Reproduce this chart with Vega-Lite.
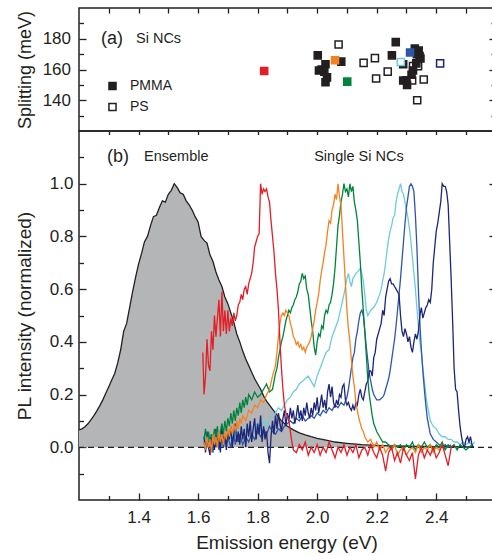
{
"$schema": "https://vega.github.io/schema/vega-lite/v6.json",
"padding": {"left": 14, "top": 6, "right": 0, "bottom": 0},
"spacing": 0,
"bounds": "flush",
"background": "white",
"config": {
 "view": {"stroke": "#231f20", "strokeWidth": 1.5},
 "font": "Liberation Sans",
 "axis": {"domain": false, "grid": false, "tickColor": "#231f20", "tickWidth": 1.3, "labelColor": "#231f20", "titleColor": "#231f20", "labelFont": "Liberation Sans", "titleFont": "Liberation Sans", "labelFontSize": 17, "titleFontSize": 19, "titleFontWeight": "normal", "labelFlush": false, "labelOverlap": false},
 "text": {"font": "Liberation Sans", "color": "#231f20"}
},
"resolve": {"scale": {"fill": "independent", "stroke": "independent"}},
"datasets": {
 "pts": [
  {"nc":"NC1","m":"PMMA","e":1.822,"s":159.0},
  {"nc":"NC2","m":"PMMA","e":2.060,"s":166.0},
  {"nc":"NC3","m":"PMMA","e":2.101,"s":152.1},
  {"nc":"NC4","m":"PS","e":2.281,"s":164.9},
  {"nc":"NC5","m":"PMMA","e":2.312,"s":171.1},
  {"nc":"NC6","m":"PS","e":2.413,"s":164.0},
  {"nc":"-","m":"PS","e":2.072,"s":176.3},
  {"nc":"-","m":"PS","e":2.156,"s":164.3},
  {"nc":"-","m":"PS","e":2.194,"s":167.4},
  {"nc":"-","m":"PS","e":2.237,"s":158.6},
  {"nc":"-","m":"PS","e":2.198,"s":154.2},
  {"nc":"-","m":"PS","e":2.322,"s":162.2},
  {"nc":"-","m":"PS","e":2.339,"s":162.2},
  {"nc":"-","m":"PS","e":2.319,"s":152.9},
  {"nc":"-","m":"PS","e":2.358,"s":153.5},
  {"nc":"-","m":"PS","e":2.336,"s":140.0},
  {"nc":"-","m":"PMMA","e":2.002,"s":169.2},
  {"nc":"-","m":"PMMA","e":2.028,"s":163.4},
  {"nc":"-","m":"PMMA","e":2.006,"s":159.3},
  {"nc":"-","m":"PMMA","e":2.024,"s":158.6},
  {"nc":"-","m":"PMMA","e":2.015,"s":160.0},
  {"nc":"-","m":"PMMA","e":2.033,"s":154.9},
  {"nc":"-","m":"PMMA","e":2.028,"s":151.7},
  {"nc":"-","m":"PMMA","e":2.081,"s":165.1},
  {"nc":"-","m":"PMMA","e":2.264,"s":177.8},
  {"nc":"-","m":"PMMA","e":2.251,"s":169.2},
  {"nc":"-","m":"PMMA","e":2.328,"s":173.6},
  {"nc":"-","m":"PMMA","e":2.341,"s":172.3},
  {"nc":"-","m":"PMMA","e":2.344,"s":168.8},
  {"nc":"-","m":"PMMA","e":2.347,"s":167.2},
  {"nc":"-","m":"PMMA","e":2.335,"s":170.0},
  {"nc":"-","m":"PMMA","e":2.333,"s":164.0},
  {"nc":"-","m":"PMMA","e":2.322,"s":159.4},
  {"nc":"-","m":"PMMA","e":2.317,"s":156.6},
  {"nc":"-","m":"PMMA","e":2.289,"s":152.8},
  {"nc":"-","m":"PMMA","e":2.302,"s":149.9},
  {"nc":"-","m":"PMMA","e":2.300,"s":153.0},
  {"nc":"-","m":"PMMA","e":2.289,"s":163.4}
 ],
 "labA": [
  {"k":"big","e":1.274,"s":180,"t":"(a)"},
  {"k":"small","e":1.3915,"s":180,"t":"Si NCs"}
 ],
 "labB": [
  {"k":"big","e":1.294,"pl":1.1,"t":"(b)"},
  {"k":"small","e":1.4185,"pl":1.1,"t":"Ensemble"},
  {"k":"small","e":1.99,"pl":1.1,"t":"Single Si NCs"}
 ],
 "zero": [{"pl":0}],
 "ens": [
  {"e":1.20,"pl":0.066},{"e":1.21,"pl":0.070},{"e":1.22,"pl":0.078},{"e":1.23,"pl":0.089},{"e":1.24,"pl":0.104},{"e":1.25,"pl":0.12},{"e":1.26,"pl":0.138},{"e":1.27,"pl":0.158},{"e":1.28,"pl":0.18},{"e":1.29,"pl":0.205},{"e":1.30,"pl":0.23},{"e":1.31,"pl":0.255},{"e":1.32,"pl":0.28},{"e":1.33,"pl":0.32},{"e":1.34,"pl":0.37},{"e":1.35,"pl":0.44},{"e":1.36,"pl":0.47},{"e":1.37,"pl":0.53},{"e":1.38,"pl":0.59},{"e":1.39,"pl":0.645},{"e":1.40,"pl":0.695},{"e":1.41,"pl":0.735},{"e":1.42,"pl":0.78},{"e":1.43,"pl":0.80},{"e":1.44,"pl":0.84},{"e":1.45,"pl":0.875},{"e":1.46,"pl":0.88},{"e":1.47,"pl":0.91},{"e":1.48,"pl":0.935},{"e":1.49,"pl":0.93},{"e":1.50,"pl":0.96},{"e":1.51,"pl":0.975},{"e":1.52,"pl":1.0},{"e":1.53,"pl":0.985},{"e":1.54,"pl":0.965},{"e":1.55,"pl":0.96},{"e":1.56,"pl":0.935},{"e":1.57,"pl":0.92},{"e":1.58,"pl":0.90},{"e":1.59,"pl":0.875},{"e":1.60,"pl":0.855},{"e":1.61,"pl":0.80},{"e":1.62,"pl":0.785},{"e":1.63,"pl":0.775},{"e":1.64,"pl":0.73},{"e":1.65,"pl":0.705},{"e":1.66,"pl":0.665},{"e":1.67,"pl":0.635},{"e":1.68,"pl":0.61},{"e":1.69,"pl":0.57},{"e":1.70,"pl":0.545},{"e":1.71,"pl":0.51},{"e":1.72,"pl":0.475},{"e":1.73,"pl":0.43},{"e":1.74,"pl":0.40},{"e":1.75,"pl":0.365},{"e":1.76,"pl":0.335},{"e":1.77,"pl":0.31},{"e":1.78,"pl":0.285},{"e":1.79,"pl":0.26},{"e":1.80,"pl":0.24},{"e":1.81,"pl":0.22},{"e":1.82,"pl":0.195},{"e":1.83,"pl":0.175},{"e":1.84,"pl":0.16},{"e":1.85,"pl":0.145},{"e":1.86,"pl":0.13},{"e":1.87,"pl":0.115},{"e":1.88,"pl":0.10},{"e":1.89,"pl":0.09},{"e":1.90,"pl":0.08},{"e":1.92,"pl":0.066},{"e":1.94,"pl":0.055},{"e":1.96,"pl":0.047},{"e":1.98,"pl":0.04},{"e":2.00,"pl":0.034},{"e":2.03,"pl":0.027},{"e":2.06,"pl":0.02},{"e":2.10,"pl":0.015},{"e":2.15,"pl":0.01},{"e":2.20,"pl":0.007},{"e":2.25,"pl":0.005},{"e":2.30,"pl":0.004},{"e":2.35,"pl":0.003},{"e":2.40,"pl":0.002},{"e":2.45,"pl":0.002},{"e":2.50,"pl":0.001},{"e":2.525,"pl":0.001}
 ],
 "spec": [
  {"nc":"NC4","e":1.62,"pl":0.01},{"nc":"NC4","e":1.625,"pl":0.04},{"nc":"NC4","e":1.63,"pl":0.0},{"nc":"NC4","e":1.635,"pl":0.03},{"nc":"NC4","e":1.64,"pl":0.05},{"nc":"NC4","e":1.645,"pl":0.02},{"nc":"NC4","e":1.65,"pl":0.04},{"nc":"NC4","e":1.655,"pl":0.01},{"nc":"NC4","e":1.66,"pl":0.05},{"nc":"NC4","e":1.665,"pl":0.02},{"nc":"NC4","e":1.67,"pl":0.03},{"nc":"NC4","e":1.675,"pl":0.06},{"nc":"NC4","e":1.68,"pl":0.02},{"nc":"NC4","e":1.685,"pl":0.05},{"nc":"NC4","e":1.69,"pl":0.03},{"nc":"NC4","e":1.695,"pl":0.06},{"nc":"NC4","e":1.70,"pl":0.04},{"nc":"NC4","e":1.705,"pl":0.02},{"nc":"NC4","e":1.71,"pl":0.05},{"nc":"NC4","e":1.715,"pl":0.03},{"nc":"NC4","e":1.72,"pl":0.06},{"nc":"NC4","e":1.725,"pl":0.04},{"nc":"NC4","e":1.73,"pl":0.07},{"nc":"NC4","e":1.735,"pl":0.05},{"nc":"NC4","e":1.74,"pl":0.03},{"nc":"NC4","e":1.745,"pl":0.06},{"nc":"NC4","e":1.75,"pl":0.04},{"nc":"NC4","e":1.76,"pl":0.07},{"nc":"NC4","e":1.77,"pl":0.05},{"nc":"NC4","e":1.78,"pl":0.08},{"nc":"NC4","e":1.79,"pl":0.06},{"nc":"NC4","e":1.80,"pl":0.09},{"nc":"NC4","e":1.81,"pl":0.07},{"nc":"NC4","e":1.82,"pl":0.10},{"nc":"NC4","e":1.83,"pl":0.08},{"nc":"NC4","e":1.84,"pl":0.11},{"nc":"NC4","e":1.85,"pl":0.12},{"nc":"NC4","e":1.86,"pl":0.13},{"nc":"NC4","e":1.87,"pl":0.15},{"nc":"NC4","e":1.88,"pl":0.14},{"nc":"NC4","e":1.89,"pl":0.16},{"nc":"NC4","e":1.90,"pl":0.18},{"nc":"NC4","e":1.91,"pl":0.19},{"nc":"NC4","e":1.92,"pl":0.21},{"nc":"NC4","e":1.93,"pl":0.22},{"nc":"NC4","e":1.94,"pl":0.24},{"nc":"NC4","e":1.95,"pl":0.25},{"nc":"NC4","e":1.96,"pl":0.26},{"nc":"NC4","e":1.97,"pl":0.27},{"nc":"NC4","e":1.98,"pl":0.25},{"nc":"NC4","e":1.99,"pl":0.23},{"nc":"NC4","e":2.00,"pl":0.27},{"nc":"NC4","e":2.01,"pl":0.30},{"nc":"NC4","e":2.02,"pl":0.33},{"nc":"NC4","e":2.03,"pl":0.36},{"nc":"NC4","e":2.04,"pl":0.37},{"nc":"NC4","e":2.05,"pl":0.42},{"nc":"NC4","e":2.06,"pl":0.45},{"nc":"NC4","e":2.07,"pl":0.48},{"nc":"NC4","e":2.08,"pl":0.53},{"nc":"NC4","e":2.09,"pl":0.58},{"nc":"NC4","e":2.10,"pl":0.64},{"nc":"NC4","e":2.105,"pl":0.66},{"nc":"NC4","e":2.11,"pl":0.63},{"nc":"NC4","e":2.115,"pl":0.61},{"nc":"NC4","e":2.12,"pl":0.64},{"nc":"NC4","e":2.125,"pl":0.65},{"nc":"NC4","e":2.13,"pl":0.66},{"nc":"NC4","e":2.14,"pl":0.67},{"nc":"NC4","e":2.145,"pl":0.68},{"nc":"NC4","e":2.15,"pl":0.66},{"nc":"NC4","e":2.155,"pl":0.63},{"nc":"NC4","e":2.16,"pl":0.58},{"nc":"NC4","e":2.165,"pl":0.52},{"nc":"NC4","e":2.17,"pl":0.50},{"nc":"NC4","e":2.175,"pl":0.51},{"nc":"NC4","e":2.18,"pl":0.52},{"nc":"NC4","e":2.19,"pl":0.53},{"nc":"NC4","e":2.20,"pl":0.55},{"nc":"NC4","e":2.21,"pl":0.58},{"nc":"NC4","e":2.215,"pl":0.60},{"nc":"NC4","e":2.22,"pl":0.63},{"nc":"NC4","e":2.225,"pl":0.66},{"nc":"NC4","e":2.23,"pl":0.70},{"nc":"NC4","e":2.235,"pl":0.75},{"nc":"NC4","e":2.24,"pl":0.79},{"nc":"NC4","e":2.245,"pl":0.82},{"nc":"NC4","e":2.25,"pl":0.84},{"nc":"NC4","e":2.255,"pl":0.87},{"nc":"NC4","e":2.26,"pl":0.88},{"nc":"NC4","e":2.265,"pl":0.93},{"nc":"NC4","e":2.27,"pl":0.96},{"nc":"NC4","e":2.275,"pl":0.98},{"nc":"NC4","e":2.28,"pl":1.00},{"nc":"NC4","e":2.285,"pl":0.97},{"nc":"NC4","e":2.29,"pl":0.96},{"nc":"NC4","e":2.295,"pl":0.93},{"nc":"NC4","e":2.30,"pl":0.90},{"nc":"NC4","e":2.305,"pl":0.87},{"nc":"NC4","e":2.31,"pl":0.83},{"nc":"NC4","e":2.315,"pl":0.78},{"nc":"NC4","e":2.32,"pl":0.72},{"nc":"NC4","e":2.325,"pl":0.66},{"nc":"NC4","e":2.33,"pl":0.60},{"nc":"NC4","e":2.335,"pl":0.53},{"nc":"NC4","e":2.34,"pl":0.46},{"nc":"NC4","e":2.345,"pl":0.40},{"nc":"NC4","e":2.35,"pl":0.36},{"nc":"NC4","e":2.355,"pl":0.30},{"nc":"NC4","e":2.36,"pl":0.25},{"nc":"NC4","e":2.365,"pl":0.20},{"nc":"NC4","e":2.37,"pl":0.16},{"nc":"NC4","e":2.375,"pl":0.13},{"nc":"NC4","e":2.38,"pl":0.10},{"nc":"NC4","e":2.39,"pl":0.08},{"nc":"NC4","e":2.40,"pl":0.07},{"nc":"NC4","e":2.41,"pl":0.05},{"nc":"NC4","e":2.42,"pl":0.04},{"nc":"NC4","e":2.43,"pl":0.04},{"nc":"NC4","e":2.44,"pl":0.03},{"nc":"NC4","e":2.45,"pl":0.03},{"nc":"NC4","e":2.46,"pl":0.02},{"nc":"NC4","e":2.47,"pl":0.02},{"nc":"NC4","e":2.48,"pl":0.01},{"nc":"NC4","e":2.49,"pl":0.02},{"nc":"NC4","e":2.50,"pl":0.01},{"nc":"NC4","e":2.51,"pl":0.02},{"nc":"NC4","e":2.52,"pl":0.01},{"nc":"NC4","e":2.53,"pl":0.02},

  {"nc":"NC5","e":1.62,"pl":0.02},{"nc":"NC5","e":1.625,"pl":-0.01},{"nc":"NC5","e":1.63,"pl":0.03},{"nc":"NC5","e":1.635,"pl":0.0},{"nc":"NC5","e":1.64,"pl":0.04},{"nc":"NC5","e":1.645,"pl":0.01},{"nc":"NC5","e":1.65,"pl":-0.02},{"nc":"NC5","e":1.655,"pl":0.02},{"nc":"NC5","e":1.66,"pl":0.0},{"nc":"NC5","e":1.665,"pl":0.03},{"nc":"NC5","e":1.67,"pl":-0.01},{"nc":"NC5","e":1.675,"pl":0.02},{"nc":"NC5","e":1.68,"pl":0.04},{"nc":"NC5","e":1.685,"pl":0.0},{"nc":"NC5","e":1.69,"pl":0.03},{"nc":"NC5","e":1.695,"pl":0.01},{"nc":"NC5","e":1.70,"pl":0.04},{"nc":"NC5","e":1.705,"pl":0.02},{"nc":"NC5","e":1.71,"pl":0.0},{"nc":"NC5","e":1.715,"pl":0.03},{"nc":"NC5","e":1.72,"pl":0.05},{"nc":"NC5","e":1.725,"pl":0.01},{"nc":"NC5","e":1.73,"pl":0.04},{"nc":"NC5","e":1.735,"pl":0.02},{"nc":"NC5","e":1.74,"pl":0.05},{"nc":"NC5","e":1.745,"pl":0.03},{"nc":"NC5","e":1.75,"pl":0.01},{"nc":"NC5","e":1.76,"pl":0.04},{"nc":"NC5","e":1.77,"pl":0.02},{"nc":"NC5","e":1.78,"pl":0.05},{"nc":"NC5","e":1.79,"pl":0.03},{"nc":"NC5","e":1.80,"pl":0.06},{"nc":"NC5","e":1.81,"pl":0.04},{"nc":"NC5","e":1.82,"pl":0.07},{"nc":"NC5","e":1.83,"pl":0.05},{"nc":"NC5","e":1.84,"pl":0.08},{"nc":"NC5","e":1.85,"pl":0.06},{"nc":"NC5","e":1.86,"pl":0.05},{"nc":"NC5","e":1.87,"pl":0.07},{"nc":"NC5","e":1.88,"pl":0.06},{"nc":"NC5","e":1.89,"pl":0.08},{"nc":"NC5","e":1.90,"pl":0.09},{"nc":"NC5","e":1.91,"pl":0.10},{"nc":"NC5","e":1.92,"pl":0.09},{"nc":"NC5","e":1.93,"pl":0.11},{"nc":"NC5","e":1.94,"pl":0.10},{"nc":"NC5","e":1.95,"pl":0.12},{"nc":"NC5","e":1.96,"pl":0.10},{"nc":"NC5","e":1.97,"pl":0.11},{"nc":"NC5","e":1.98,"pl":0.12},{"nc":"NC5","e":1.99,"pl":0.11},{"nc":"NC5","e":2.00,"pl":0.13},{"nc":"NC5","e":2.01,"pl":0.12},{"nc":"NC5","e":2.02,"pl":0.14},{"nc":"NC5","e":2.03,"pl":0.13},{"nc":"NC5","e":2.04,"pl":0.15},{"nc":"NC5","e":2.05,"pl":0.14},{"nc":"NC5","e":2.06,"pl":0.16},{"nc":"NC5","e":2.07,"pl":0.15},{"nc":"NC5","e":2.08,"pl":0.17},{"nc":"NC5","e":2.09,"pl":0.16},{"nc":"NC5","e":2.10,"pl":0.19},{"nc":"NC5","e":2.105,"pl":0.22},{"nc":"NC5","e":2.11,"pl":0.26},{"nc":"NC5","e":2.115,"pl":0.30},{"nc":"NC5","e":2.12,"pl":0.34},{"nc":"NC5","e":2.125,"pl":0.36},{"nc":"NC5","e":2.13,"pl":0.41},{"nc":"NC5","e":2.135,"pl":0.44},{"nc":"NC5","e":2.14,"pl":0.48},{"nc":"NC5","e":2.145,"pl":0.51},{"nc":"NC5","e":2.15,"pl":0.52},{"nc":"NC5","e":2.155,"pl":0.50},{"nc":"NC5","e":2.16,"pl":0.44},{"nc":"NC5","e":2.165,"pl":0.38},{"nc":"NC5","e":2.17,"pl":0.33},{"nc":"NC5","e":2.175,"pl":0.28},{"nc":"NC5","e":2.18,"pl":0.25},{"nc":"NC5","e":2.185,"pl":0.22},{"nc":"NC5","e":2.19,"pl":0.20},{"nc":"NC5","e":2.195,"pl":0.19},{"nc":"NC5","e":2.20,"pl":0.18},{"nc":"NC5","e":2.21,"pl":0.18},{"nc":"NC5","e":2.22,"pl":0.19},{"nc":"NC5","e":2.225,"pl":0.20},{"nc":"NC5","e":2.23,"pl":0.22},{"nc":"NC5","e":2.24,"pl":0.26},{"nc":"NC5","e":2.245,"pl":0.29},{"nc":"NC5","e":2.25,"pl":0.33},{"nc":"NC5","e":2.255,"pl":0.37},{"nc":"NC5","e":2.26,"pl":0.41},{"nc":"NC5","e":2.265,"pl":0.46},{"nc":"NC5","e":2.27,"pl":0.52},{"nc":"NC5","e":2.275,"pl":0.58},{"nc":"NC5","e":2.28,"pl":0.64},{"nc":"NC5","e":2.285,"pl":0.71},{"nc":"NC5","e":2.29,"pl":0.78},{"nc":"NC5","e":2.295,"pl":0.85},{"nc":"NC5","e":2.30,"pl":0.91},{"nc":"NC5","e":2.305,"pl":0.95},{"nc":"NC5","e":2.31,"pl":0.99},{"nc":"NC5","e":2.315,"pl":1.00},{"nc":"NC5","e":2.32,"pl":0.99},{"nc":"NC5","e":2.325,"pl":0.97},{"nc":"NC5","e":2.33,"pl":0.88},{"nc":"NC5","e":2.335,"pl":0.76},{"nc":"NC5","e":2.34,"pl":0.60},{"nc":"NC5","e":2.345,"pl":0.47},{"nc":"NC5","e":2.35,"pl":0.37},{"nc":"NC5","e":2.355,"pl":0.29},{"nc":"NC5","e":2.36,"pl":0.22},{"nc":"NC5","e":2.365,"pl":0.16},{"nc":"NC5","e":2.37,"pl":0.11},{"nc":"NC5","e":2.375,"pl":0.08},{"nc":"NC5","e":2.38,"pl":0.05},{"nc":"NC5","e":2.39,"pl":0.03},{"nc":"NC5","e":2.40,"pl":0.02},{"nc":"NC5","e":2.41,"pl":0.01},{"nc":"NC5","e":2.42,"pl":0.0},{"nc":"NC5","e":2.43,"pl":0.01},{"nc":"NC5","e":2.44,"pl":0.0},{"nc":"NC5","e":2.45,"pl":0.01},

  {"nc":"NC6","e":1.62,"pl":0.04},{"nc":"NC6","e":1.625,"pl":-0.02},{"nc":"NC6","e":1.63,"pl":0.06},{"nc":"NC6","e":1.635,"pl":0.0},{"nc":"NC6","e":1.64,"pl":-0.03},{"nc":"NC6","e":1.645,"pl":0.05},{"nc":"NC6","e":1.65,"pl":0.02},{"nc":"NC6","e":1.655,"pl":-0.01},{"nc":"NC6","e":1.66,"pl":0.07},{"nc":"NC6","e":1.665,"pl":0.01},{"nc":"NC6","e":1.67,"pl":0.04},{"nc":"NC6","e":1.675,"pl":-0.02},{"nc":"NC6","e":1.68,"pl":0.08},{"nc":"NC6","e":1.685,"pl":0.02},{"nc":"NC6","e":1.69,"pl":0.05},{"nc":"NC6","e":1.695,"pl":-0.01},{"nc":"NC6","e":1.70,"pl":0.06},{"nc":"NC6","e":1.705,"pl":0.03},{"nc":"NC6","e":1.71,"pl":0.08},{"nc":"NC6","e":1.715,"pl":0.0},{"nc":"NC6","e":1.72,"pl":0.05},{"nc":"NC6","e":1.725,"pl":0.09},{"nc":"NC6","e":1.73,"pl":0.02},{"nc":"NC6","e":1.735,"pl":0.06},{"nc":"NC6","e":1.74,"pl":0.01},{"nc":"NC6","e":1.745,"pl":0.08},{"nc":"NC6","e":1.75,"pl":0.03},{"nc":"NC6","e":1.755,"pl":0.07},{"nc":"NC6","e":1.76,"pl":0.0},{"nc":"NC6","e":1.765,"pl":0.09},{"nc":"NC6","e":1.77,"pl":0.04},{"nc":"NC6","e":1.775,"pl":0.10},{"nc":"NC6","e":1.78,"pl":0.02},{"nc":"NC6","e":1.785,"pl":0.07},{"nc":"NC6","e":1.79,"pl":0.11},{"nc":"NC6","e":1.795,"pl":0.03},{"nc":"NC6","e":1.80,"pl":0.09},{"nc":"NC6","e":1.805,"pl":0.05},{"nc":"NC6","e":1.81,"pl":0.12},{"nc":"NC6","e":1.815,"pl":0.02},{"nc":"NC6","e":1.82,"pl":0.08},{"nc":"NC6","e":1.825,"pl":0.03},{"nc":"NC6","e":1.83,"pl":0.06},{"nc":"NC6","e":1.835,"pl":-0.02},{"nc":"NC6","e":1.84,"pl":-0.06},{"nc":"NC6","e":1.845,"pl":0.04},{"nc":"NC6","e":1.85,"pl":0.10},{"nc":"NC6","e":1.855,"pl":0.05},{"nc":"NC6","e":1.86,"pl":0.12},{"nc":"NC6","e":1.865,"pl":0.07},{"nc":"NC6","e":1.87,"pl":0.13},{"nc":"NC6","e":1.875,"pl":0.09},{"nc":"NC6","e":1.88,"pl":0.06},{"nc":"NC6","e":1.885,"pl":0.11},{"nc":"NC6","e":1.89,"pl":0.14},{"nc":"NC6","e":1.895,"pl":0.08},{"nc":"NC6","e":1.90,"pl":0.13},{"nc":"NC6","e":1.905,"pl":0.10},{"nc":"NC6","e":1.91,"pl":0.15},{"nc":"NC6","e":1.915,"pl":0.11},{"nc":"NC6","e":1.92,"pl":0.14},{"nc":"NC6","e":1.925,"pl":0.09},{"nc":"NC6","e":1.93,"pl":0.12},{"nc":"NC6","e":1.935,"pl":0.16},{"nc":"NC6","e":1.94,"pl":0.11},{"nc":"NC6","e":1.945,"pl":0.14},{"nc":"NC6","e":1.95,"pl":0.10},{"nc":"NC6","e":1.955,"pl":0.15},{"nc":"NC6","e":1.96,"pl":0.12},{"nc":"NC6","e":1.965,"pl":0.17},{"nc":"NC6","e":1.97,"pl":0.13},{"nc":"NC6","e":1.975,"pl":0.11},{"nc":"NC6","e":1.98,"pl":0.15},{"nc":"NC6","e":1.985,"pl":0.12},{"nc":"NC6","e":1.99,"pl":0.17},{"nc":"NC6","e":1.995,"pl":0.14},{"nc":"NC6","e":2.00,"pl":0.19},{"nc":"NC6","e":2.005,"pl":0.13},{"nc":"NC6","e":2.01,"pl":0.16},{"nc":"NC6","e":2.015,"pl":0.20},{"nc":"NC6","e":2.02,"pl":0.15},{"nc":"NC6","e":2.025,"pl":0.18},{"nc":"NC6","e":2.03,"pl":0.14},{"nc":"NC6","e":2.035,"pl":0.21},{"nc":"NC6","e":2.04,"pl":0.24},{"nc":"NC6","e":2.045,"pl":0.19},{"nc":"NC6","e":2.05,"pl":0.23},{"nc":"NC6","e":2.055,"pl":0.17},{"nc":"NC6","e":2.06,"pl":0.15},{"nc":"NC6","e":2.065,"pl":0.18},{"nc":"NC6","e":2.07,"pl":0.16},{"nc":"NC6","e":2.075,"pl":0.20},{"nc":"NC6","e":2.08,"pl":0.19},{"nc":"NC6","e":2.085,"pl":0.23},{"nc":"NC6","e":2.09,"pl":0.24},{"nc":"NC6","e":2.095,"pl":0.18},{"nc":"NC6","e":2.10,"pl":0.16},{"nc":"NC6","e":2.105,"pl":0.17},{"nc":"NC6","e":2.11,"pl":0.15},{"nc":"NC6","e":2.115,"pl":0.14},{"nc":"NC6","e":2.12,"pl":0.16},{"nc":"NC6","e":2.125,"pl":0.14},{"nc":"NC6","e":2.13,"pl":0.17},{"nc":"NC6","e":2.135,"pl":0.16},{"nc":"NC6","e":2.14,"pl":0.20},{"nc":"NC6","e":2.145,"pl":0.22},{"nc":"NC6","e":2.15,"pl":0.19},{"nc":"NC6","e":2.155,"pl":0.18},{"nc":"NC6","e":2.16,"pl":0.21},{"nc":"NC6","e":2.165,"pl":0.24},{"nc":"NC6","e":2.17,"pl":0.25},{"nc":"NC6","e":2.175,"pl":0.29},{"nc":"NC6","e":2.18,"pl":0.29},{"nc":"NC6","e":2.185,"pl":0.27},{"nc":"NC6","e":2.19,"pl":0.34},{"nc":"NC6","e":2.195,"pl":0.36},{"nc":"NC6","e":2.20,"pl":0.41},{"nc":"NC6","e":2.205,"pl":0.43},{"nc":"NC6","e":2.21,"pl":0.45},{"nc":"NC6","e":2.215,"pl":0.47},{"nc":"NC6","e":2.22,"pl":0.52},{"nc":"NC6","e":2.225,"pl":0.50},{"nc":"NC6","e":2.23,"pl":0.57},{"nc":"NC6","e":2.235,"pl":0.60},{"nc":"NC6","e":2.24,"pl":0.63},{"nc":"NC6","e":2.245,"pl":0.64},{"nc":"NC6","e":2.25,"pl":0.62},{"nc":"NC6","e":2.255,"pl":0.62},{"nc":"NC6","e":2.26,"pl":0.61},{"nc":"NC6","e":2.265,"pl":0.60},{"nc":"NC6","e":2.27,"pl":0.59},{"nc":"NC6","e":2.275,"pl":0.58},{"nc":"NC6","e":2.28,"pl":0.50},{"nc":"NC6","e":2.285,"pl":0.44},{"nc":"NC6","e":2.29,"pl":0.42},{"nc":"NC6","e":2.295,"pl":0.45},{"nc":"NC6","e":2.30,"pl":0.43},{"nc":"NC6","e":2.305,"pl":0.40},{"nc":"NC6","e":2.31,"pl":0.42},{"nc":"NC6","e":2.315,"pl":0.38},{"nc":"NC6","e":2.32,"pl":0.36},{"nc":"NC6","e":2.325,"pl":0.40},{"nc":"NC6","e":2.33,"pl":0.43},{"nc":"NC6","e":2.335,"pl":0.41},{"nc":"NC6","e":2.34,"pl":0.44},{"nc":"NC6","e":2.345,"pl":0.50},{"nc":"NC6","e":2.35,"pl":0.53},{"nc":"NC6","e":2.355,"pl":0.49},{"nc":"NC6","e":2.36,"pl":0.51},{"nc":"NC6","e":2.365,"pl":0.53},{"nc":"NC6","e":2.37,"pl":0.54},{"nc":"NC6","e":2.375,"pl":0.56},{"nc":"NC6","e":2.38,"pl":0.55},{"nc":"NC6","e":2.385,"pl":0.60},{"nc":"NC6","e":2.39,"pl":0.70},{"nc":"NC6","e":2.395,"pl":0.76},{"nc":"NC6","e":2.40,"pl":0.82},{"nc":"NC6","e":2.405,"pl":0.85},{"nc":"NC6","e":2.41,"pl":0.89},{"nc":"NC6","e":2.415,"pl":0.93},{"nc":"NC6","e":2.42,"pl":1.00},{"nc":"NC6","e":2.425,"pl":0.99},{"nc":"NC6","e":2.43,"pl":0.99},{"nc":"NC6","e":2.435,"pl":0.97},{"nc":"NC6","e":2.44,"pl":0.92},{"nc":"NC6","e":2.445,"pl":0.78},{"nc":"NC6","e":2.45,"pl":0.64},{"nc":"NC6","e":2.455,"pl":0.48},{"nc":"NC6","e":2.46,"pl":0.30},{"nc":"NC6","e":2.465,"pl":0.22},{"nc":"NC6","e":2.47,"pl":0.21},{"nc":"NC6","e":2.475,"pl":0.14},{"nc":"NC6","e":2.48,"pl":0.08},{"nc":"NC6","e":2.485,"pl":0.04},{"nc":"NC6","e":2.49,"pl":0.01},{"nc":"NC6","e":2.495,"pl":0.0},{"nc":"NC6","e":2.50,"pl":0.03},{"nc":"NC6","e":2.505,"pl":0.04},{"nc":"NC6","e":2.51,"pl":0.02},{"nc":"NC6","e":2.515,"pl":0.04},{"nc":"NC6","e":2.52,"pl":0.01},{"nc":"NC6","e":2.525,"pl":0.0},

  {"nc":"NC3","e":1.62,"pl":0.03},{"nc":"NC3","e":1.625,"pl":0.07},{"nc":"NC3","e":1.63,"pl":0.02},{"nc":"NC3","e":1.635,"pl":0.06},{"nc":"NC3","e":1.64,"pl":0.01},{"nc":"NC3","e":1.645,"pl":0.05},{"nc":"NC3","e":1.65,"pl":0.03},{"nc":"NC3","e":1.655,"pl":0.07},{"nc":"NC3","e":1.66,"pl":0.04},{"nc":"NC3","e":1.665,"pl":0.08},{"nc":"NC3","e":1.67,"pl":0.02},{"nc":"NC3","e":1.675,"pl":0.06},{"nc":"NC3","e":1.68,"pl":0.09},{"nc":"NC3","e":1.685,"pl":0.05},{"nc":"NC3","e":1.69,"pl":0.10},{"nc":"NC3","e":1.695,"pl":0.06},{"nc":"NC3","e":1.70,"pl":0.11},{"nc":"NC3","e":1.705,"pl":0.08},{"nc":"NC3","e":1.71,"pl":0.13},{"nc":"NC3","e":1.715,"pl":0.09},{"nc":"NC3","e":1.72,"pl":0.14},{"nc":"NC3","e":1.725,"pl":0.10},{"nc":"NC3","e":1.73,"pl":0.15},{"nc":"NC3","e":1.735,"pl":0.12},{"nc":"NC3","e":1.74,"pl":0.17},{"nc":"NC3","e":1.745,"pl":0.13},{"nc":"NC3","e":1.75,"pl":0.18},{"nc":"NC3","e":1.755,"pl":0.15},{"nc":"NC3","e":1.76,"pl":0.19},{"nc":"NC3","e":1.765,"pl":0.16},{"nc":"NC3","e":1.77,"pl":0.20},{"nc":"NC3","e":1.78,"pl":0.18},{"nc":"NC3","e":1.79,"pl":0.21},{"nc":"NC3","e":1.80,"pl":0.19},{"nc":"NC3","e":1.81,"pl":0.20},{"nc":"NC3","e":1.82,"pl":0.22},{"nc":"NC3","e":1.83,"pl":0.24},{"nc":"NC3","e":1.84,"pl":0.21},{"nc":"NC3","e":1.85,"pl":0.22},{"nc":"NC3","e":1.855,"pl":0.25},{"nc":"NC3","e":1.86,"pl":0.28},{"nc":"NC3","e":1.865,"pl":0.30},{"nc":"NC3","e":1.87,"pl":0.34},{"nc":"NC3","e":1.875,"pl":0.37},{"nc":"NC3","e":1.88,"pl":0.40},{"nc":"NC3","e":1.885,"pl":0.42},{"nc":"NC3","e":1.89,"pl":0.45},{"nc":"NC3","e":1.895,"pl":0.48},{"nc":"NC3","e":1.90,"pl":0.50},{"nc":"NC3","e":1.905,"pl":0.52},{"nc":"NC3","e":1.91,"pl":0.51},{"nc":"NC3","e":1.915,"pl":0.53},{"nc":"NC3","e":1.92,"pl":0.54},{"nc":"NC3","e":1.925,"pl":0.56},{"nc":"NC3","e":1.93,"pl":0.57},{"nc":"NC3","e":1.935,"pl":0.59},{"nc":"NC3","e":1.94,"pl":0.62},{"nc":"NC3","e":1.945,"pl":0.63},{"nc":"NC3","e":1.95,"pl":0.66},{"nc":"NC3","e":1.955,"pl":0.64},{"nc":"NC3","e":1.96,"pl":0.65},{"nc":"NC3","e":1.965,"pl":0.60},{"nc":"NC3","e":1.97,"pl":0.58},{"nc":"NC3","e":1.975,"pl":0.53},{"nc":"NC3","e":1.98,"pl":0.48},{"nc":"NC3","e":1.985,"pl":0.44},{"nc":"NC3","e":1.99,"pl":0.38},{"nc":"NC3","e":1.995,"pl":0.35},{"nc":"NC3","e":2.00,"pl":0.40},{"nc":"NC3","e":2.005,"pl":0.43},{"nc":"NC3","e":2.01,"pl":0.42},{"nc":"NC3","e":2.015,"pl":0.46},{"nc":"NC3","e":2.02,"pl":0.45},{"nc":"NC3","e":2.025,"pl":0.50},{"nc":"NC3","e":2.03,"pl":0.52},{"nc":"NC3","e":2.035,"pl":0.51},{"nc":"NC3","e":2.04,"pl":0.54},{"nc":"NC3","e":2.045,"pl":0.55},{"nc":"NC3","e":2.05,"pl":0.58},{"nc":"NC3","e":2.055,"pl":0.62},{"nc":"NC3","e":2.06,"pl":0.68},{"nc":"NC3","e":2.065,"pl":0.76},{"nc":"NC3","e":2.07,"pl":0.84},{"nc":"NC3","e":2.075,"pl":0.88},{"nc":"NC3","e":2.08,"pl":0.93},{"nc":"NC3","e":2.085,"pl":0.96},{"nc":"NC3","e":2.09,"pl":1.00},{"nc":"NC3","e":2.095,"pl":0.97},{"nc":"NC3","e":2.10,"pl":0.98},{"nc":"NC3","e":2.105,"pl":0.95},{"nc":"NC3","e":2.11,"pl":1.00},{"nc":"NC3","e":2.115,"pl":0.97},{"nc":"NC3","e":2.12,"pl":0.99},{"nc":"NC3","e":2.125,"pl":0.93},{"nc":"NC3","e":2.13,"pl":0.90},{"nc":"NC3","e":2.135,"pl":0.86},{"nc":"NC3","e":2.14,"pl":0.78},{"nc":"NC3","e":2.145,"pl":0.70},{"nc":"NC3","e":2.15,"pl":0.60},{"nc":"NC3","e":2.155,"pl":0.52},{"nc":"NC3","e":2.16,"pl":0.44},{"nc":"NC3","e":2.165,"pl":0.35},{"nc":"NC3","e":2.17,"pl":0.26},{"nc":"NC3","e":2.175,"pl":0.20},{"nc":"NC3","e":2.18,"pl":0.16},{"nc":"NC3","e":2.185,"pl":0.12},{"nc":"NC3","e":2.19,"pl":0.09},{"nc":"NC3","e":2.20,"pl":0.06},{"nc":"NC3","e":2.21,"pl":0.04},{"nc":"NC3","e":2.22,"pl":0.02},{"nc":"NC3","e":2.23,"pl":0.02},{"nc":"NC3","e":2.24,"pl":0.01},{"nc":"NC3","e":2.25,"pl":0.0},{"nc":"NC3","e":2.26,"pl":0.01},{"nc":"NC3","e":2.27,"pl":0.0},{"nc":"NC3","e":2.28,"pl":0.01},{"nc":"NC3","e":2.29,"pl":-0.01},{"nc":"NC3","e":2.30,"pl":0.01},{"nc":"NC3","e":2.31,"pl":0.0},{"nc":"NC3","e":2.32,"pl":0.02},{"nc":"NC3","e":2.33,"pl":-0.01},{"nc":"NC3","e":2.34,"pl":0.01},{"nc":"NC3","e":2.35,"pl":0.0},{"nc":"NC3","e":2.36,"pl":0.02},{"nc":"NC3","e":2.37,"pl":0.0},{"nc":"NC3","e":2.38,"pl":0.01},{"nc":"NC3","e":2.39,"pl":-0.01},{"nc":"NC3","e":2.40,"pl":0.01},{"nc":"NC3","e":2.41,"pl":0.0},{"nc":"NC3","e":2.42,"pl":0.02},{"nc":"NC3","e":2.43,"pl":-0.01},{"nc":"NC3","e":2.44,"pl":0.01},{"nc":"NC3","e":2.45,"pl":0.0},{"nc":"NC3","e":2.46,"pl":0.01},{"nc":"NC3","e":2.47,"pl":-0.01},{"nc":"NC3","e":2.48,"pl":0.01},{"nc":"NC3","e":2.49,"pl":0.0},{"nc":"NC3","e":2.50,"pl":-0.01},{"nc":"NC3","e":2.51,"pl":0.0},{"nc":"NC3","e":2.52,"pl":0.01},

  {"nc":"NC2","e":1.62,"pl":0.02},{"nc":"NC2","e":1.625,"pl":-0.01},{"nc":"NC2","e":1.63,"pl":0.04},{"nc":"NC2","e":1.635,"pl":0.0},{"nc":"NC2","e":1.64,"pl":0.03},{"nc":"NC2","e":1.645,"pl":-0.02},{"nc":"NC2","e":1.65,"pl":0.05},{"nc":"NC2","e":1.655,"pl":0.01},{"nc":"NC2","e":1.66,"pl":0.04},{"nc":"NC2","e":1.665,"pl":0.0},{"nc":"NC2","e":1.67,"pl":0.06},{"nc":"NC2","e":1.675,"pl":0.02},{"nc":"NC2","e":1.68,"pl":0.05},{"nc":"NC2","e":1.685,"pl":0.01},{"nc":"NC2","e":1.69,"pl":0.06},{"nc":"NC2","e":1.695,"pl":0.03},{"nc":"NC2","e":1.70,"pl":0.07},{"nc":"NC2","e":1.705,"pl":0.04},{"nc":"NC2","e":1.71,"pl":0.08},{"nc":"NC2","e":1.715,"pl":0.05},{"nc":"NC2","e":1.72,"pl":0.09},{"nc":"NC2","e":1.725,"pl":0.06},{"nc":"NC2","e":1.73,"pl":0.10},{"nc":"NC2","e":1.735,"pl":0.07},{"nc":"NC2","e":1.74,"pl":0.11},{"nc":"NC2","e":1.745,"pl":0.09},{"nc":"NC2","e":1.75,"pl":0.12},{"nc":"NC2","e":1.76,"pl":0.10},{"nc":"NC2","e":1.77,"pl":0.14},{"nc":"NC2","e":1.78,"pl":0.13},{"nc":"NC2","e":1.79,"pl":0.16},{"nc":"NC2","e":1.80,"pl":0.15},{"nc":"NC2","e":1.81,"pl":0.18},{"nc":"NC2","e":1.82,"pl":0.17},{"nc":"NC2","e":1.83,"pl":0.20},{"nc":"NC2","e":1.84,"pl":0.22},{"nc":"NC2","e":1.85,"pl":0.27},{"nc":"NC2","e":1.86,"pl":0.31},{"nc":"NC2","e":1.865,"pl":0.36},{"nc":"NC2","e":1.87,"pl":0.42},{"nc":"NC2","e":1.875,"pl":0.47},{"nc":"NC2","e":1.88,"pl":0.50},{"nc":"NC2","e":1.885,"pl":0.51},{"nc":"NC2","e":1.89,"pl":0.50},{"nc":"NC2","e":1.895,"pl":0.52},{"nc":"NC2","e":1.90,"pl":0.51},{"nc":"NC2","e":1.905,"pl":0.50},{"nc":"NC2","e":1.91,"pl":0.47},{"nc":"NC2","e":1.915,"pl":0.45},{"nc":"NC2","e":1.92,"pl":0.42},{"nc":"NC2","e":1.925,"pl":0.41},{"nc":"NC2","e":1.93,"pl":0.39},{"nc":"NC2","e":1.935,"pl":0.40},{"nc":"NC2","e":1.94,"pl":0.38},{"nc":"NC2","e":1.945,"pl":0.39},{"nc":"NC2","e":1.95,"pl":0.37},{"nc":"NC2","e":1.955,"pl":0.38},{"nc":"NC2","e":1.96,"pl":0.36},{"nc":"NC2","e":1.965,"pl":0.38},{"nc":"NC2","e":1.97,"pl":0.39},{"nc":"NC2","e":1.975,"pl":0.40},{"nc":"NC2","e":1.98,"pl":0.42},{"nc":"NC2","e":1.985,"pl":0.45},{"nc":"NC2","e":1.99,"pl":0.48},{"nc":"NC2","e":1.995,"pl":0.52},{"nc":"NC2","e":2.00,"pl":0.55},{"nc":"NC2","e":2.005,"pl":0.58},{"nc":"NC2","e":2.01,"pl":0.63},{"nc":"NC2","e":2.015,"pl":0.67},{"nc":"NC2","e":2.02,"pl":0.70},{"nc":"NC2","e":2.025,"pl":0.74},{"nc":"NC2","e":2.03,"pl":0.77},{"nc":"NC2","e":2.035,"pl":0.82},{"nc":"NC2","e":2.04,"pl":0.86},{"nc":"NC2","e":2.045,"pl":0.85},{"nc":"NC2","e":2.05,"pl":0.90},{"nc":"NC2","e":2.055,"pl":0.92},{"nc":"NC2","e":2.06,"pl":0.96},{"nc":"NC2","e":2.065,"pl":0.94},{"nc":"NC2","e":2.07,"pl":1.00},{"nc":"NC2","e":2.075,"pl":0.95},{"nc":"NC2","e":2.08,"pl":0.92},{"nc":"NC2","e":2.085,"pl":0.82},{"nc":"NC2","e":2.09,"pl":0.72},{"nc":"NC2","e":2.095,"pl":0.62},{"nc":"NC2","e":2.10,"pl":0.52},{"nc":"NC2","e":2.105,"pl":0.45},{"nc":"NC2","e":2.11,"pl":0.40},{"nc":"NC2","e":2.115,"pl":0.33},{"nc":"NC2","e":2.12,"pl":0.27},{"nc":"NC2","e":2.125,"pl":0.23},{"nc":"NC2","e":2.13,"pl":0.17},{"nc":"NC2","e":2.135,"pl":0.14},{"nc":"NC2","e":2.14,"pl":0.11},{"nc":"NC2","e":2.145,"pl":0.09},{"nc":"NC2","e":2.15,"pl":0.07},{"nc":"NC2","e":2.155,"pl":0.06},{"nc":"NC2","e":2.16,"pl":0.04},{"nc":"NC2","e":2.17,"pl":0.02},{"nc":"NC2","e":2.18,"pl":0.03},{"nc":"NC2","e":2.19,"pl":0.0},{"nc":"NC2","e":2.20,"pl":0.02},{"nc":"NC2","e":2.21,"pl":-0.01},{"nc":"NC2","e":2.22,"pl":0.01},{"nc":"NC2","e":2.23,"pl":-0.02},{"nc":"NC2","e":2.24,"pl":0.0},{"nc":"NC2","e":2.25,"pl":-0.01},{"nc":"NC2","e":2.26,"pl":0.01},{"nc":"NC2","e":2.27,"pl":-0.03},{"nc":"NC2","e":2.28,"pl":-0.01},{"nc":"NC2","e":2.29,"pl":0.0},{"nc":"NC2","e":2.30,"pl":-0.03},{"nc":"NC2","e":2.31,"pl":-0.01},{"nc":"NC2","e":2.32,"pl":0.0},{"nc":"NC2","e":2.33,"pl":-0.02},{"nc":"NC2","e":2.34,"pl":0.01},{"nc":"NC2","e":2.35,"pl":-0.02},{"nc":"NC2","e":2.36,"pl":0.0},{"nc":"NC2","e":2.37,"pl":-0.01},{"nc":"NC2","e":2.38,"pl":0.01},{"nc":"NC2","e":2.39,"pl":-0.02},{"nc":"NC2","e":2.40,"pl":0.0},{"nc":"NC2","e":2.41,"pl":-0.01},{"nc":"NC2","e":2.42,"pl":0.01},

  {"nc":"NC1","e":1.616,"pl":0.36},{"nc":"NC1","e":1.62,"pl":0.20},{"nc":"NC1","e":1.625,"pl":0.27},{"nc":"NC1","e":1.63,"pl":0.41},{"nc":"NC1","e":1.635,"pl":0.31},{"nc":"NC1","e":1.64,"pl":0.29},{"nc":"NC1","e":1.645,"pl":0.44},{"nc":"NC1","e":1.65,"pl":0.37},{"nc":"NC1","e":1.655,"pl":0.50},{"nc":"NC1","e":1.66,"pl":0.42},{"nc":"NC1","e":1.665,"pl":0.49},{"nc":"NC1","e":1.67,"pl":0.56},{"nc":"NC1","e":1.675,"pl":0.42},{"nc":"NC1","e":1.68,"pl":0.59},{"nc":"NC1","e":1.685,"pl":0.44},{"nc":"NC1","e":1.69,"pl":0.52},{"nc":"NC1","e":1.695,"pl":0.43},{"nc":"NC1","e":1.70,"pl":0.52},{"nc":"NC1","e":1.705,"pl":0.44},{"nc":"NC1","e":1.71,"pl":0.49},{"nc":"NC1","e":1.715,"pl":0.46},{"nc":"NC1","e":1.72,"pl":0.51},{"nc":"NC1","e":1.725,"pl":0.48},{"nc":"NC1","e":1.73,"pl":0.50},{"nc":"NC1","e":1.735,"pl":0.54},{"nc":"NC1","e":1.74,"pl":0.55},{"nc":"NC1","e":1.745,"pl":0.58},{"nc":"NC1","e":1.75,"pl":0.56},{"nc":"NC1","e":1.755,"pl":0.60},{"nc":"NC1","e":1.76,"pl":0.61},{"nc":"NC1","e":1.765,"pl":0.58},{"nc":"NC1","e":1.77,"pl":0.62},{"nc":"NC1","e":1.775,"pl":0.64},{"nc":"NC1","e":1.78,"pl":0.66},{"nc":"NC1","e":1.785,"pl":0.70},{"nc":"NC1","e":1.79,"pl":0.76},{"nc":"NC1","e":1.795,"pl":0.78},{"nc":"NC1","e":1.80,"pl":0.80},{"nc":"NC1","e":1.805,"pl":0.81},{"nc":"NC1","e":1.81,"pl":1.00},{"nc":"NC1","e":1.815,"pl":0.96},{"nc":"NC1","e":1.82,"pl":0.98},{"nc":"NC1","e":1.825,"pl":0.97},{"nc":"NC1","e":1.83,"pl":0.98},{"nc":"NC1","e":1.835,"pl":0.95},{"nc":"NC1","e":1.84,"pl":0.93},{"nc":"NC1","e":1.845,"pl":0.86},{"nc":"NC1","e":1.85,"pl":0.80},{"nc":"NC1","e":1.855,"pl":0.74},{"nc":"NC1","e":1.86,"pl":0.66},{"nc":"NC1","e":1.865,"pl":0.60},{"nc":"NC1","e":1.87,"pl":0.52},{"nc":"NC1","e":1.875,"pl":0.40},{"nc":"NC1","e":1.88,"pl":0.30},{"nc":"NC1","e":1.885,"pl":0.22},{"nc":"NC1","e":1.89,"pl":0.16},{"nc":"NC1","e":1.895,"pl":0.13},{"nc":"NC1","e":1.90,"pl":0.12},{"nc":"NC1","e":1.905,"pl":0.10},{"nc":"NC1","e":1.91,"pl":0.06},{"nc":"NC1","e":1.915,"pl":0.02},{"nc":"NC1","e":1.92,"pl":-0.01},{"nc":"NC1","e":1.93,"pl":-0.02},{"nc":"NC1","e":1.94,"pl":0.01},{"nc":"NC1","e":1.95,"pl":-0.01},{"nc":"NC1","e":1.96,"pl":0.02},{"nc":"NC1","e":1.97,"pl":-0.03},{"nc":"NC1","e":1.98,"pl":0.0},{"nc":"NC1","e":1.99,"pl":-0.02},{"nc":"NC1","e":2.00,"pl":0.01},{"nc":"NC1","e":2.01,"pl":-0.03},{"nc":"NC1","e":2.02,"pl":0.0},{"nc":"NC1","e":2.03,"pl":-0.02},{"nc":"NC1","e":2.04,"pl":0.02},{"nc":"NC1","e":2.05,"pl":-0.01},{"nc":"NC1","e":2.06,"pl":-0.04},{"nc":"NC1","e":2.07,"pl":0.0},{"nc":"NC1","e":2.08,"pl":-0.02},{"nc":"NC1","e":2.09,"pl":0.01},{"nc":"NC1","e":2.10,"pl":-0.03},{"nc":"NC1","e":2.11,"pl":0.0},{"nc":"NC1","e":2.12,"pl":-0.02},{"nc":"NC1","e":2.13,"pl":0.01},{"nc":"NC1","e":2.14,"pl":-0.04},{"nc":"NC1","e":2.15,"pl":-0.01},{"nc":"NC1","e":2.16,"pl":0.0},{"nc":"NC1","e":2.17,"pl":-0.03},{"nc":"NC1","e":2.18,"pl":0.01},{"nc":"NC1","e":2.19,"pl":-0.02},{"nc":"NC1","e":2.20,"pl":-0.04},{"nc":"NC1","e":2.21,"pl":0.0},{"nc":"NC1","e":2.22,"pl":-0.03},{"nc":"NC1","e":2.23,"pl":-0.09},{"nc":"NC1","e":2.24,"pl":-0.02},{"nc":"NC1","e":2.25,"pl":0.0},{"nc":"NC1","e":2.26,"pl":-0.05},{"nc":"NC1","e":2.27,"pl":-0.02},{"nc":"NC1","e":2.28,"pl":-0.06},{"nc":"NC1","e":2.29,"pl":0.0},{"nc":"NC1","e":2.30,"pl":-0.03},{"nc":"NC1","e":2.31,"pl":-0.05},{"nc":"NC1","e":2.32,"pl":-0.02},{"nc":"NC1","e":2.33,"pl":-0.12},{"nc":"NC1","e":2.34,"pl":-0.03},{"nc":"NC1","e":2.35,"pl":0.0},{"nc":"NC1","e":2.36,"pl":-0.04},{"nc":"NC1","e":2.37,"pl":-0.01},{"nc":"NC1","e":2.38,"pl":-0.03},{"nc":"NC1","e":2.39,"pl":0.0},{"nc":"NC1","e":2.40,"pl":-0.04},{"nc":"NC1","e":2.41,"pl":-0.02},{"nc":"NC1","e":2.42,"pl":0.01},{"nc":"NC1","e":2.43,"pl":-0.03},{"nc":"NC1","e":2.44,"pl":-0.07},{"nc":"NC1","e":2.45,"pl":0.0},{"nc":"NC1","e":2.46,"pl":0.01}
 ]
},
"vconcat": [
 {
  "width": 415, "height": 123,
  "resolve": {"axis": {"x": "independent", "y": "independent"}, "scale": {"fill": "independent", "stroke": "independent"}},
  "layer": [
   {
    "data": {"name": "pts"},
    "transform": [{"filter": "datum.nc === '-'"}],
    "mark": {"type": "point", "shape": "square", "size": 50, "strokeWidth": 1.5, "opacity": 1, "stroke": "#231f20"},
    "encoding": {
     "x": {"field": "e", "type": "quantitative", "scale": {"domain": [1.2, 2.594], "nice": false, "zero": false}, "axis": {"orient": "top", "values": [1.3,1.4,1.5,1.6,1.7,1.8,1.9,2.0,2.1,2.2,2.3,2.4,2.5], "labels": false, "tickSize": -5, "title": null}},
     "y": {"field": "s", "type": "quantitative", "scale": {"domain": [120, 200], "nice": false, "zero": false}, "axis": {"orient": "left", "values": [140, 160, 180], "tickSize": -7, "labelPadding": 15.5, "title": "Splitting (meV)", "titleFontSize": 18, "titleX": -48.5, "titleBaseline": "alphabetic"}},
     "fill": {"field": "m", "type": "nominal", "scale": {"domain": ["PMMA", "PS"], "range": ["#231f20", "#ffffff"]},
      "legend": {"title": null, "orient": "none", "legendX": 26.5, "legendY": 71, "symbolType": "square", "symbolSize": 50, "symbolStrokeColor": "#231f20", "symbolStrokeWidth": 1.5, "symbolOpacity": 1, "labelFontSize": 14, "labelFont": "Liberation Sans", "labelColor": "#231f20", "labelOffset": 10.5, "rowPadding": 7, "padding": 0, "offset": 0}}
    }
   },
   {
    "data": {"name": "pts"},
    "transform": [{"filter": "datum.nc !== '-'"}],
    "mark": {"type": "point", "shape": "square", "size": 50, "strokeWidth": 1.5, "opacity": 1},
    "encoding": {
     "x": {"field": "e", "type": "quantitative", "axis": null},
     "y": {"field": "s", "type": "quantitative", "axis": {"orient": "left", "values": [130, 150, 170, 190], "labels": false, "tickSize": -4.5, "title": null}},
     "stroke": {"field": "nc", "type": "nominal", "scale": {"domain": ["NC1","NC2","NC3","NC4","NC5","NC6"], "range": ["#e41e26","#f58220","#00843d","#6ccbe0","#2e56a6","#1d2577"]}, "legend": null},
     "fill": {"condition": {"test": "datum.m === 'PS'", "value": "#ffffff"}, "field": "nc", "type": "nominal", "scale": {"domain": ["NC1","NC2","NC3","NC4","NC5","NC6"], "range": ["#e41e26","#f58220","#00843d","#6ccbe0","#2e56a6","#1d2577"]}, "legend": null}
    }
   },
   {
    "data": {"name": "labA"},
    "transform": [{"filter": "datum.k === 'big'"}],
    "mark": {"type": "text", "align": "left", "baseline": "middle", "fontSize": 18, "color": "#231f20"},
    "encoding": {
     "x": {"field": "e", "type": "quantitative", "axis": null},
     "y": {"field": "s", "type": "quantitative", "axis": {"orient": "right", "values": [140, 160, 180], "labels": false, "tickSize": -5, "title": null}},
     "text": {"field": "t"}
    }
   },
   {
    "data": {"name": "labA"},
    "transform": [{"filter": "datum.k === 'small'"}],
    "mark": {"type": "text", "align": "left", "baseline": "middle", "fontSize": 14.5, "color": "#231f20"},
    "encoding": {
     "x": {"field": "e", "type": "quantitative", "axis": null},
     "y": {"field": "s", "type": "quantitative", "axis": {"orient": "right", "values": [130, 150, 170, 190], "labels": false, "tickSize": -3, "title": null}},
     "text": {"field": "t"}
    }
   }
  ]
 },
 {
  "width": 415, "height": 369,
  "resolve": {"axis": {"x": "independent", "y": "independent"}},
  "layer": [
   {
    "data": {"name": "ens"},
    "mark": {"type": "area", "color": "#b4b5b7", "opacity": 1},
    "encoding": {
     "x": {"field": "e", "type": "quantitative", "scale": {"domain": [1.2, 2.594], "nice": false, "zero": false}, "axis": {"orient": "bottom", "values": [1.4,1.6,1.8,2.0,2.2,2.4], "format": ".1f", "tickSize": -7, "labelPadding": 16, "title": "Emission energy (eV)", "titleY": 48, "titleBaseline": "alphabetic"}},
     "y": {"field": "pl", "type": "quantitative", "scale": {"domain": [-0.2, 1.2], "nice": false, "zero": false}, "axis": {"orient": "left", "values": [0,0.2,0.4,0.6,0.8,1.0], "format": ".1f", "tickSize": -7, "labelPadding": 13, "title": "PL intensity (normalized)", "titleX": -48.5, "titleBaseline": "alphabetic"}},
     "y2": {"datum": 0}
    }
   },
   {
    "data": {"name": "ens"},
    "mark": {"type": "line", "color": "#231f20", "strokeWidth": 1.3},
    "encoding": {
     "x": {"field": "e", "type": "quantitative", "axis": {"orient": "bottom", "values": [1.3,1.5,1.7,1.9,2.1,2.3,2.5], "labels": false, "tickSize": -4.5, "title": null}},
     "y": {"field": "pl", "type": "quantitative", "axis": {"orient": "left", "values": [-0.1,0.1,0.3,0.5,0.7,0.9,1.1], "labels": false, "tickSize": -4.5, "title": null}}
    }
   },
   {
    "data": {"name": "zero"},
    "mark": {"type": "rule", "color": "#231f20", "strokeWidth": 1.3, "strokeDash": [6, 4]},
    "encoding": {
     "y": {"field": "pl", "type": "quantitative", "axis": null}
    }
   },
   {
    "data": {"name": "spec"},
    "mark": {"type": "line", "strokeWidth": 1.3},
    "encoding": {
     "x": {"field": "e", "type": "quantitative", "axis": null},
     "y": {"field": "pl", "type": "quantitative", "axis": null},
     "stroke": {"field": "nc", "type": "nominal", "sort": null, "scale": {"domain": ["NC1","NC2","NC3","NC4","NC5","NC6"], "range": ["#e41e26","#f58220","#00843d","#6ccbe0","#2e56a6","#1d2577"]}, "legend": null}
    }
   },
   {
    "data": {"name": "labB"},
    "transform": [{"filter": "datum.k === 'big'"}],
    "mark": {"type": "text", "align": "left", "baseline": "middle", "fontSize": 18, "color": "#231f20"},
    "encoding": {
     "x": {"field": "e", "type": "quantitative", "axis": {"orient": "top", "values": [1.3,1.4,1.5,1.6,1.7,1.8,1.9,2.0,2.1,2.2,2.3,2.4,2.5], "labels": false, "tickSize": -3.5, "title": null}},
     "y": {"field": "pl", "type": "quantitative", "axis": {"orient": "right", "values": [0,0.2,0.4,0.6,0.8,1.0], "labels": false, "tickSize": -5, "title": null}},
     "text": {"field": "t"}
    }
   },
   {
    "data": {"name": "labB"},
    "transform": [{"filter": "datum.k === 'small'"}],
    "mark": {"type": "text", "align": "left", "baseline": "middle", "fontSize": 14.5, "color": "#231f20"},
    "encoding": {
     "x": {"field": "e", "type": "quantitative", "axis": null},
     "y": {"field": "pl", "type": "quantitative", "axis": {"orient": "right", "values": [-0.1,0.1,0.3,0.5,0.7,0.9,1.1], "labels": false, "tickSize": -2.5, "title": null}},
     "text": {"field": "t"}
    }
   }
  ]
 }
]
}
